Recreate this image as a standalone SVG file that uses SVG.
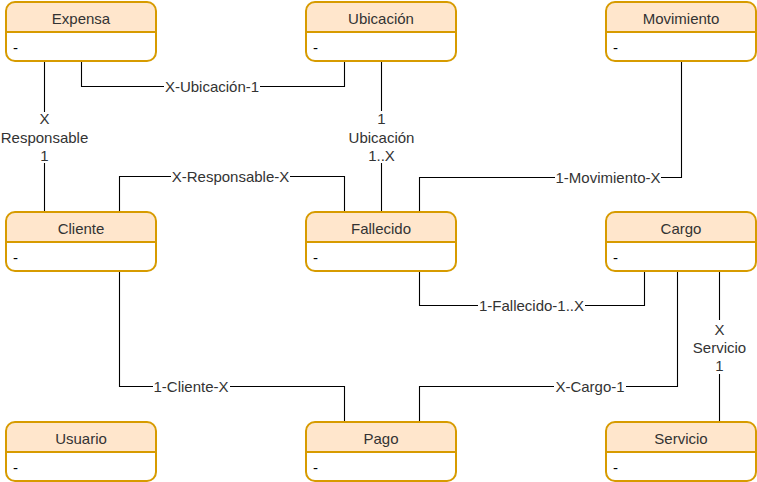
<svg xmlns="http://www.w3.org/2000/svg" width="757" height="482" viewBox="0 0 757 482">
<style>
.box{fill:#ffffff;stroke:none}
.hdr{fill:#ffe6cc;stroke:none}
.out{fill:none;stroke:#d79b00;stroke-width:2}
.div{stroke:#d79b00;stroke-width:2}
.title{font-family:"Liberation Sans",Arial,sans-serif;font-size:15px;fill:#333333;text-anchor:middle}
.attr{font-family:"Liberation Sans",Arial,sans-serif;font-size:15px;fill:#000000}
.edge{fill:none;stroke:#000000;stroke-width:1.1}
.lbg{fill:#ffffff}
.lbl{font-family:"Liberation Sans",Arial,sans-serif;font-size:15px;fill:#333333;text-anchor:middle}
</style>
<defs>
<g id="entity">
<rect class="box" x="0" y="0" width="150" height="59" rx="9"/>
<path class="hdr" d="M0,30 V9 A9,9 0 0 1 9,0 H141 A9,9 0 0 1 150,9 V30 Z"/>
<line class="div" x1="0" y1="30" x2="150" y2="30"/>
<rect class="out" x="0" y="0" width="150" height="59" rx="9"/>
</g>
</defs>
<rect width="757" height="482" fill="#ffffff"/>
<g id="connectors">
<path class="edge" d="M81.5,61 V86.5 H344.5 V61"/>
<path class="edge" d="M44.5,61 V212"/>
<path class="edge" d="M119.5,212 V176.5 H344.5 V212"/>
<path class="edge" d="M381.5,61 V212"/>
<path class="edge" d="M681.5,61 V177.5 H419.5 V212"/>
<path class="edge" d="M419.5,271 V305.5 H644.5 V271"/>
<path class="edge" d="M677.5,271 V386.5 H419.5 V422"/>
<path class="edge" d="M719.5,271 V422"/>
<path class="edge" d="M119.5,271 V386.5 H344.5 V422"/>
<rect class="lbg" x="164" y="78" width="96" height="17"/>
<text class="lbl" x="212" y="92">X-Ubicación-1</text>
<rect class="lbg" x="0" y="112" width="89" height="51"/>
<text class="lbl" x="44.5" y="124">X</text>
<text class="lbl" x="44.5" y="142.5">Responsable</text>
<text class="lbl" x="44.5" y="160.5">1</text>
<rect class="lbg" x="346" y="111" width="70" height="52"/>
<text class="lbl" x="381.5" y="124">1</text>
<text class="lbl" x="381.5" y="142.5">Ubicación</text>
<text class="lbl" x="381.5" y="161">1..X</text>
<rect class="lbg" x="171" y="168" width="119" height="17"/>
<text class="lbl" x="230.5" y="182">X-Responsable-X</text>
<rect class="lbg" x="555" y="169" width="106" height="17"/>
<text class="lbl" x="608" y="183">1-Movimiento-X</text>
<rect class="lbg" x="478" y="297" width="107" height="17"/>
<text class="lbl" x="531.5" y="311">1-Fallecido-1..X</text>
<rect class="lbg" x="688" y="320" width="62" height="54"/>
<text class="lbl" x="719.5" y="335">X</text>
<text class="lbl" x="719.5" y="353">Servicio</text>
<text class="lbl" x="719.5" y="371">1</text>
<rect class="lbg" x="554" y="378" width="72" height="17"/>
<text class="lbl" x="590" y="392">X-Cargo-1</text>
<rect class="lbg" x="153" y="378" width="77" height="17"/>
<text class="lbl" x="191" y="392">1-Cliente-X</text>
</g>
<g id="Expensa" transform="translate(6,2)"><use href="#entity"/><text class="title" x="75" y="22">Expensa</text><text class="attr" x="7" y="51">-</text></g>
<g id="Ubicacion" transform="translate(306,2)"><use href="#entity"/><text class="title" x="75" y="22">Ubicación</text><text class="attr" x="7" y="51">-</text></g>
<g id="Movimiento" transform="translate(606,2)"><use href="#entity"/><text class="title" x="75" y="22">Movimiento</text><text class="attr" x="7" y="51">-</text></g>
<g id="Cliente" transform="translate(6,212)"><use href="#entity"/><text class="title" x="75" y="22">Cliente</text><text class="attr" x="7" y="51">-</text></g>
<g id="Fallecido" transform="translate(306,212)"><use href="#entity"/><text class="title" x="75" y="22">Fallecido</text><text class="attr" x="7" y="51">-</text></g>
<g id="Cargo" transform="translate(606,212)"><use href="#entity"/><text class="title" x="75" y="22">Cargo</text><text class="attr" x="7" y="51">-</text></g>
<g id="Usuario" transform="translate(6,422)"><use href="#entity"/><text class="title" x="75" y="22">Usuario</text><text class="attr" x="7" y="51">-</text></g>
<g id="Pago" transform="translate(306,422)"><use href="#entity"/><text class="title" x="75" y="22">Pago</text><text class="attr" x="7" y="51">-</text></g>
<g id="Servicio" transform="translate(606,422)"><use href="#entity"/><text class="title" x="75" y="22">Servicio</text><text class="attr" x="7" y="51">-</text></g>
</svg>
